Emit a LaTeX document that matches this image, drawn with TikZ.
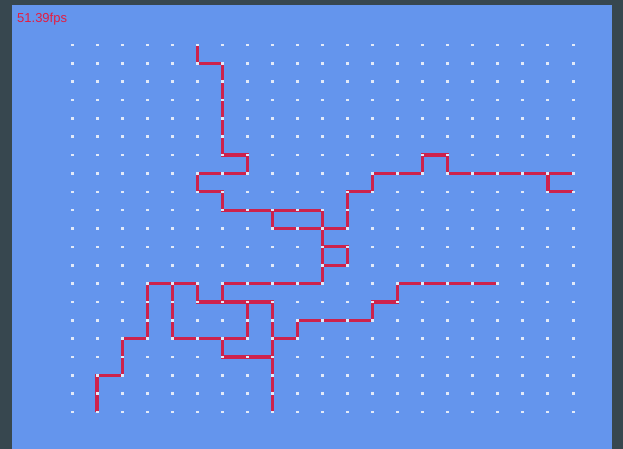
\documentclass[tikz,border=0pt]{standalone}
\usepackage{fontspec}
\setmainfont{Liberation Sans}
\definecolor{bgblue}{RGB}{100,149,237}
\definecolor{framecol}{RGB}{55,71,79}
\definecolor{walkred}{RGB}{205,34,76}
\definecolor{dotcol}{RGB}{226,234,248}
\definecolor{fpsred}{RGB}{228,28,64}
\begin{document}
\begin{tikzpicture}[x=1pt,y=-1pt,
  walk/.style={draw=walkred, line width=3.2pt},
  gdot/.style={fill=dotcol, rectangle, inner sep=0pt, minimum width=3pt, minimum height=2.6pt}]
\fill[framecol] (0,0) rectangle (623,449);
\fill[bgblue] (12,5) rectangle (612,449);
\useasboundingbox (0,0) rectangle (623,449);
\foreach \i in {0,...,20}{
  \foreach \j in {0,...,20}{
    \coordinate (p\i-\j) at ({72+25.05*\i},{45+18.35*\j});
  }
}
% walks
\draw[walk] (p5-0) -- (p5-1) -- (p6-1) -- (p6-6) -- (p7-6) -- (p7-7) -- (p5-7) -- (p5-8) -- (p6-8) -- (p6-9) -- (p10-9) -- (p10-13) -- (p6-13) -- (p6-14);
\draw[walk] (p8-9) -- (p8-10) -- (p11-10) -- (p11-8) -- (p12-8) -- (p12-7) -- (p14-7) -- (p14-6) -- (p15-6) -- (p15-7) -- (p20-7);
\draw[walk] (p19-7) -- (p19-8) -- (p20-8);
\draw[walk] (p10-11) -- (p11-11) -- (p11-12) -- (p10-12);
\draw[walk] (p17-13) -- (p13-13) -- (p13-14) -- (p12-14) -- (p12-15) -- (p9-15) -- (p9-16) -- (p8-16);
\draw[walk] (p8-20) -- (p8-14) -- (p5-14) -- (p5-13) -- (p3-13) -- (p3-16) -- (p2-16) -- (p2-18) -- (p1-18) -- (p1-20);
\draw[walk] (p4-13) -- (p4-16) -- (p7-16) -- (p7-14);
\draw[walk] (p6-16) -- (p6-17) -- (p8-17);
% grid dots
\foreach \i in {0,...,20}{
  \foreach \j in {0,...,20}{
    \node[gdot] (d\i-\j) at (p\i-\j) {};
  }
}
\node[anchor=base west, text=fpsred, inner sep=0pt, font=\fontsize{13}{14}\selectfont] (fps) at (17,22.5) {51.39fps};
\end{tikzpicture}
\end{document}
